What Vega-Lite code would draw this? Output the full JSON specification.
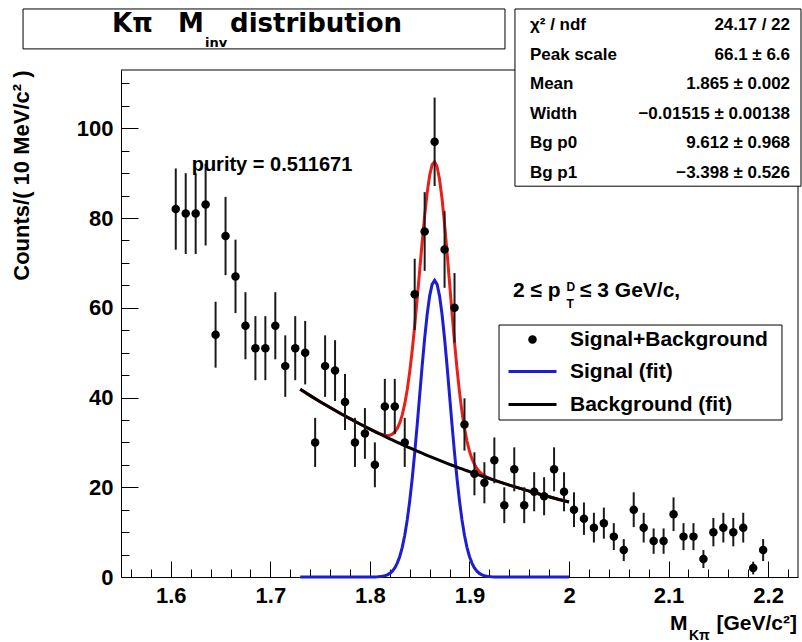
{
  "$schema": "https://vega.github.io/schema/vega-lite/v6.json",
  "width": 677,
  "height": 507,
  "autosize": {"type": "none"},
  "padding": {"left": 121, "top": 70, "right": 4, "bottom": 65},
  "background": "white",
  "config": {
    "view": {"stroke": null},
    "font": "Liberation Sans",
    "text": {"font": "Liberation Sans", "fontWeight": "bold", "color": "black"}
  },
  "data": {"values": [{}]},
  "datasets": {
    "hist": [
      {"m": 1.605, "n": 82, "err": 9.055}, {"m": 1.615, "n": 81, "err": 9.0}, {"m": 1.625, "n": 81, "err": 9.0},
      {"m": 1.635, "n": 83, "err": 9.11}, {"m": 1.645, "n": 54, "err": 7.348}, {"m": 1.655, "n": 76, "err": 8.718},
      {"m": 1.665, "n": 67, "err": 8.185}, {"m": 1.675, "n": 56, "err": 7.483}, {"m": 1.685, "n": 51, "err": 7.141},
      {"m": 1.695, "n": 51, "err": 7.141}, {"m": 1.705, "n": 56, "err": 7.483}, {"m": 1.715, "n": 47, "err": 6.856},
      {"m": 1.725, "n": 51, "err": 7.141}, {"m": 1.735, "n": 50, "err": 7.071}, {"m": 1.745, "n": 30, "err": 5.477},
      {"m": 1.755, "n": 47, "err": 6.856}, {"m": 1.765, "n": 46, "err": 6.782}, {"m": 1.775, "n": 39, "err": 6.245},
      {"m": 1.785, "n": 30, "err": 5.477}, {"m": 1.795, "n": 32, "err": 5.657}, {"m": 1.805, "n": 25, "err": 5.0},
      {"m": 1.815, "n": 38, "err": 6.164}, {"m": 1.825, "n": 38, "err": 6.164}, {"m": 1.835, "n": 30, "err": 5.477},
      {"m": 1.845, "n": 63, "err": 7.937}, {"m": 1.855, "n": 77, "err": 8.775}, {"m": 1.865, "n": 97, "err": 9.849},
      {"m": 1.875, "n": 73, "err": 8.544}, {"m": 1.885, "n": 60, "err": 7.746}, {"m": 1.895, "n": 34, "err": 5.831},
      {"m": 1.905, "n": 23, "err": 4.796}, {"m": 1.915, "n": 21, "err": 4.583}, {"m": 1.925, "n": 26, "err": 5.099},
      {"m": 1.935, "n": 16, "err": 4.0}, {"m": 1.945, "n": 24, "err": 4.899}, {"m": 1.955, "n": 16, "err": 4.0},
      {"m": 1.965, "n": 19, "err": 4.359}, {"m": 1.975, "n": 18, "err": 4.243}, {"m": 1.985, "n": 24, "err": 4.899},
      {"m": 1.995, "n": 19, "err": 4.359}, {"m": 2.005, "n": 15, "err": 3.873}, {"m": 2.015, "n": 13, "err": 3.606},
      {"m": 2.025, "n": 11, "err": 3.317}, {"m": 2.035, "n": 12, "err": 3.464}, {"m": 2.045, "n": 9, "err": 3.0},
      {"m": 2.055, "n": 6, "err": 2.449}, {"m": 2.065, "n": 15, "err": 3.873}, {"m": 2.075, "n": 11, "err": 3.317},
      {"m": 2.085, "n": 8, "err": 2.828}, {"m": 2.095, "n": 8, "err": 2.828}, {"m": 2.105, "n": 14, "err": 3.742},
      {"m": 2.115, "n": 9, "err": 3.0}, {"m": 2.125, "n": 9, "err": 3.0}, {"m": 2.135, "n": 4, "err": 2.0},
      {"m": 2.145, "n": 10, "err": 3.162}, {"m": 2.155, "n": 11, "err": 3.317}, {"m": 2.165, "n": 10, "err": 3.162},
      {"m": 2.175, "n": 11, "err": 3.317}, {"m": 2.185, "n": 2, "err": 1.414}, {"m": 2.195, "n": 6, "err": 2.449}
    ],
    "fit": [
      {"x": 1.73, "sig": 0, "bg": 41.824, "tot": 41.824},
      {"x": 1.74, "sig": 0, "bg": 40.427, "tot": 40.427},
      {"x": 1.75, "sig": 0, "bg": 39.077, "tot": 39.077},
      {"x": 1.76, "sig": 0, "bg": 37.771, "tot": 37.771},
      {"x": 1.77, "sig": 0, "bg": 36.509, "tot": 36.509},
      {"x": 1.78, "sig": 0, "bg": 35.29, "tot": 35.29},
      {"x": 1.79, "sig": 0, "bg": 34.111, "tot": 34.111},
      {"x": 1.8, "sig": 0.007, "bg": 32.971, "tot": 32.978},
      {"x": 1.8025, "sig": 0.013, "bg": 32.692, "tot": 32.705},
      {"x": 1.805, "sig": 0.026, "bg": 32.416, "tot": 32.442},
      {"x": 1.8075, "sig": 0.049, "bg": 32.141, "tot": 32.19},
      {"x": 1.81, "sig": 0.091, "bg": 31.87, "tot": 31.961},
      {"x": 1.8125, "sig": 0.163, "bg": 31.6, "tot": 31.763},
      {"x": 1.815, "sig": 0.285, "bg": 31.333, "tot": 31.618},
      {"x": 1.8175, "sig": 0.48, "bg": 31.068, "tot": 31.548},
      {"x": 1.82, "sig": 0.8, "bg": 30.805, "tot": 31.605},
      {"x": 1.8225, "sig": 1.29, "bg": 30.544, "tot": 31.834},
      {"x": 1.825, "sig": 2.03, "bg": 30.286, "tot": 32.316},
      {"x": 1.8275, "sig": 3.09, "bg": 30.03, "tot": 33.12},
      {"x": 1.83, "sig": 4.58, "bg": 29.776, "tot": 34.356},
      {"x": 1.8325, "sig": 6.62, "bg": 29.524, "tot": 36.144},
      {"x": 1.835, "sig": 9.3, "bg": 29.274, "tot": 38.574},
      {"x": 1.8375, "sig": 12.73, "bg": 29.027, "tot": 41.757},
      {"x": 1.84, "sig": 16.94, "bg": 28.781, "tot": 45.721},
      {"x": 1.8425, "sig": 21.94, "bg": 28.538, "tot": 50.478},
      {"x": 1.845, "sig": 27.65, "bg": 28.296, "tot": 55.946},
      {"x": 1.8475, "sig": 33.92, "bg": 28.057, "tot": 61.977},
      {"x": 1.85, "sig": 40.49, "bg": 27.82, "tot": 68.31},
      {"x": 1.8525, "sig": 47.03, "bg": 27.585, "tot": 74.615},
      {"x": 1.855, "sig": 53.16, "bg": 27.351, "tot": 80.511},
      {"x": 1.8575, "sig": 58.48, "bg": 27.12, "tot": 85.6},
      {"x": 1.86, "sig": 62.6, "bg": 26.89, "tot": 89.49},
      {"x": 1.8625, "sig": 65.21, "bg": 26.663, "tot": 91.873},
      {"x": 1.865, "sig": 66.1, "bg": 26.437, "tot": 92.537},
      {"x": 1.8675, "sig": 65.21, "bg": 26.214, "tot": 91.424},
      {"x": 1.87, "sig": 62.6, "bg": 25.992, "tot": 88.592},
      {"x": 1.8725, "sig": 58.48, "bg": 25.772, "tot": 84.252},
      {"x": 1.875, "sig": 53.16, "bg": 25.554, "tot": 78.714},
      {"x": 1.8775, "sig": 47.03, "bg": 25.338, "tot": 72.368},
      {"x": 1.88, "sig": 40.49, "bg": 25.124, "tot": 65.614},
      {"x": 1.8825, "sig": 33.92, "bg": 24.911, "tot": 58.831},
      {"x": 1.885, "sig": 27.65, "bg": 24.701, "tot": 52.351},
      {"x": 1.8875, "sig": 21.94, "bg": 24.492, "tot": 46.432},
      {"x": 1.89, "sig": 16.94, "bg": 24.285, "tot": 41.225},
      {"x": 1.8925, "sig": 12.73, "bg": 24.079, "tot": 36.809},
      {"x": 1.895, "sig": 9.3, "bg": 23.876, "tot": 33.176},
      {"x": 1.8975, "sig": 6.62, "bg": 23.674, "tot": 30.294},
      {"x": 1.9, "sig": 4.58, "bg": 23.473, "tot": 28.053},
      {"x": 1.9025, "sig": 3.09, "bg": 23.275, "tot": 26.365},
      {"x": 1.905, "sig": 2.03, "bg": 23.077, "tot": 25.107},
      {"x": 1.9075, "sig": 1.29, "bg": 22.882, "tot": 24.172},
      {"x": 1.91, "sig": 0.8, "bg": 22.689, "tot": 23.489},
      {"x": 1.9125, "sig": 0.48, "bg": 22.497, "tot": 22.977},
      {"x": 1.915, "sig": 0.285, "bg": 22.306, "tot": 22.591},
      {"x": 1.9175, "sig": 0.163, "bg": 22.118, "tot": 22.281},
      {"x": 1.92, "sig": 0.091, "bg": 21.931, "tot": 22.022},
      {"x": 1.9225, "sig": 0.049, "bg": 21.745, "tot": 21.794},
      {"x": 1.925, "sig": 0.026, "bg": 21.561, "tot": 21.587},
      {"x": 1.9275, "sig": 0.013, "bg": 21.379, "tot": 21.392},
      {"x": 1.93, "sig": 0.007, "bg": 21.199, "tot": 21.206},
      {"x": 1.94, "sig": 0, "bg": 20.49, "tot": 20.49},
      {"x": 1.95, "sig": 0, "bg": 19.806, "tot": 19.806},
      {"x": 1.96, "sig": 0, "bg": 19.144, "tot": 19.144},
      {"x": 1.97, "sig": 0, "bg": 18.505, "tot": 18.505},
      {"x": 1.98, "sig": 0, "bg": 17.887, "tot": 17.887},
      {"x": 1.99, "sig": 0, "bg": 17.289, "tot": 17.289},
      {"x": 2.0, "sig": 0, "bg": 16.712, "tot": 16.712}
    ],
    "stats": [
      {"name": "χ² / ndf", "value": "24.17 / 22"},
      {"name": "Peak scale", "value": "66.1 ± 6.6"},
      {"name": "Mean", "value": "1.865 ± 0.002"},
      {"name": "Width", "value": "−0.01515 ± 0.00138"},
      {"name": "Bg p0", "value": "9.612 ± 0.968"},
      {"name": "Bg p1", "value": "−3.398 ± 0.526"}
    ]
  },
  "layer": [
    {
      "layer": [
        {
          "data": {"name": "fit"},
          "mark": {"type": "line", "color": "#e8201c", "strokeWidth": 3, "interpolate": "linear"},
          "encoding": {
            "x": {
              "field": "x", "type": "quantitative", "title": null,
              "scale": {"domain": [1.55, 2.23], "nice": false, "zero": false},
              "axis": {
                "orient": "bottom",
                "values": [1.6, 1.7, 1.8, 1.9, 2, 2.1, 2.2],
                "labelExpr": "format(datum.value, '.2~f')",
                "ticks": false, "grid": false,
                "domainColor": "black", "domainWidth": 1,
                "labelFont": "Liberation Sans", "labelFontSize": 22, "labelFontWeight": "bold", "labelColor": "black",
                "labelPadding": 8, "labelFlush": false, "labelOverlap": false, "title": null
              }
            },
            "y": {
              "field": "tot", "type": "quantitative", "title": "Counts/( 10 MeV/c² )",
              "scale": {"domain": [0, 113], "nice": false, "zero": true},
              "axis": {
                "orient": "left",
                "values": [0, 20, 40, 60, 80, 100],
                "ticks": false, "grid": false,
                "domainColor": "black", "domainWidth": 1,
                "labelFont": "Liberation Sans", "labelFontSize": 22, "labelFontWeight": "bold", "labelColor": "black",
                "labelPadding": 8, "labelOverlap": false,
                "title": "Counts/( 10 MeV/c² )",
                "titleFont": "Liberation Sans", "titleFontSize": 22, "titleFontWeight": "bold", "titleColor": "black",
                "titleAngle": 270, "titleAlign": "right", "titleBaseline": "alphabetic",
                "titleX": -93, "titleY": 0
              }
            }
          }
        },
        {
          "data": {"name": "fit"},
          "mark": {"type": "line", "strokeWidth": 3, "interpolate": "linear"},
          "encoding": {
            "x": {"field": "x", "type": "quantitative", "title": null},
            "y": {"field": "sig", "type": "quantitative", "title": "Counts/( 10 MeV/c² )"},
            "color": {
              "datum": "Signal (fit)", "type": "nominal",
              "scale": {"domain": ["Signal (fit)", "Background (fit)"], "range": ["#1d1dd6", "black"]},
              "legend": {
                "title": null, "orient": "none", "legendX": 378, "legendY": 286, "direction": "vertical",
                "padding": 5, "rowPadding": 11, "strokeColor": null, "fillColor": null,
                "labelFont": "Liberation Sans", "labelFontSize": 21, "labelFontWeight": "bold", "labelColor": "black",
                "labelOffset": 27, "labelLimit": 400,
                "symbolType": "M-2.667,0L2.667,0", "symbolSize": 324, "symbolStrokeWidth": 3, "symbolOffset": 18
              }
            }
          }
        },
        {
          "data": {"name": "fit"},
          "mark": {"type": "line", "strokeWidth": 3, "interpolate": "linear"},
          "encoding": {
            "x": {"field": "x", "type": "quantitative", "title": null},
            "y": {"field": "bg", "type": "quantitative", "title": "Counts/( 10 MeV/c² )"},
            "color": {"datum": "Background (fit)", "type": "nominal"}
          }
        },
        {
          "data": {"name": "hist"},
          "mark": {"type": "errorbar", "color": "#1a1a1a", "thickness": 2, "ticks": false, "rule": {"strokeWidth": 2}},
          "encoding": {
            "x": {"field": "m", "type": "quantitative", "title": null},
            "y": {"field": "n", "type": "quantitative", "title": "Counts/( 10 MeV/c² )"},
            "yError": {"field": "err"}
          }
        },
        {
          "data": {"name": "hist"},
          "mark": {"type": "point", "filled": true, "size": 72, "opacity": 1, "color": "black"},
          "encoding": {
            "x": {"field": "m", "type": "quantitative", "title": null},
            "y": {"field": "n", "type": "quantitative", "title": "Counts/( 10 MeV/c² )"},
            "shape": {
              "datum": "Signal+Background", "type": "nominal",
              "scale": {"domain": ["Signal+Background"], "range": ["circle"]},
              "legend": {
                "title": null, "orient": "none", "legendX": 378, "legendY": 254, "direction": "vertical",
                "padding": 5, "strokeColor": null, "fillColor": null,
                "labelFont": "Liberation Sans", "labelFontSize": 21, "labelFontWeight": "bold", "labelColor": "black",
                "labelOffset": 27, "labelLimit": 400,
                "symbolSize": 72, "symbolFillColor": "black", "symbolStrokeWidth": 0, "symbolOffset": 18, "symbolOpacity": 1
              }
            }
          }
        },
        {
          "mark": {"type": "rule", "color": "black", "strokeWidth": 1},
          "encoding": {"y": {"datum": 113, "type": "quantitative", "title": "Counts/( 10 MeV/c² )"}}
        },
        {
          "mark": {"type": "rule", "color": "black", "strokeWidth": 1},
          "encoding": {"x": {"datum": 2.23, "type": "quantitative", "title": null}}
        },
        {
          "mark": {"type": "rect", "fill": "white", "stroke": "black", "strokeWidth": 1},
          "encoding": {
            "x": {"datum": 1.9297, "type": "quantitative", "title": null}, "x2": {"datum": 2.2139},
            "y": {"datum": 56.16, "type": "quantitative", "title": "Counts/( 10 MeV/c² )"}, "y2": {"datum": 34.99}
          }
        },
        {
          "mark": {"type": "text", "align": "left", "baseline": "alphabetic", "fontSize": 20},
          "encoding": {"x": {"datum": 1.621, "type": "quantitative", "title": null}, "y": {"datum": 90.5, "type": "quantitative", "title": "Counts/( 10 MeV/c² )"}, "text": {"value": "purity = 0.511671"}}
        },
        {
          "mark": {"type": "text", "align": "left", "baseline": "alphabetic", "fontSize": 21},
          "encoding": {"x": {"datum": 1.9437, "type": "quantitative", "title": null}, "y": {"datum": 62.4, "type": "quantitative", "title": "Counts/( 10 MeV/c² )"}, "text": {"value": "2 ≤ p"}}
        },
        {
          "mark": {"type": "text", "align": "left", "baseline": "alphabetic", "fontSize": 12},
          "encoding": {"x": {"datum": 1.9975, "type": "quantitative", "title": null}, "y": {"datum": 63.8, "type": "quantitative", "title": "Counts/( 10 MeV/c² )"}, "text": {"value": "D"}}
        },
        {
          "mark": {"type": "text", "align": "left", "baseline": "alphabetic", "fontSize": 12},
          "encoding": {"x": {"datum": 1.9975, "type": "quantitative", "title": null}, "y": {"datum": 60.0, "type": "quantitative", "title": "Counts/( 10 MeV/c² )"}, "text": {"value": "T"}}
        },
        {
          "mark": {"type": "text", "align": "left", "baseline": "alphabetic", "fontSize": 21},
          "encoding": {"x": {"datum": 2.011, "type": "quantitative", "title": null}, "y": {"datum": 62.4, "type": "quantitative", "title": "Counts/( 10 MeV/c² )"}, "text": {"value": "≤ 3 GeV/c,"}}
        },
        {
          "mark": {"type": "rect", "fill": "white", "stroke": "black", "strokeWidth": 1},
          "encoding": {
            "x": {"datum": 1.4516, "type": "quantitative", "title": null}, "x2": {"datum": 1.9357},
            "y": {"datum": 126.6, "type": "quantitative", "title": "Counts/( 10 MeV/c² )"}, "y2": {"datum": 117.7}
          }
        },
        {
          "mark": {"type": "text", "align": "left", "baseline": "alphabetic", "font": "DejaVu Sans", "fontSize": 26},
          "encoding": {"x": {"datum": 1.541, "type": "quantitative", "title": null}, "y": {"datum": 121.4, "type": "quantitative", "title": "Counts/( 10 MeV/c² )"}, "text": {"value": "Kπ"}}
        },
        {
          "mark": {"type": "text", "align": "left", "baseline": "alphabetic", "font": "DejaVu Sans", "fontSize": 26},
          "encoding": {"x": {"datum": 1.6073, "type": "quantitative", "title": null}, "y": {"datum": 121.4, "type": "quantitative", "title": "Counts/( 10 MeV/c² )"}, "text": {"value": "M"}}
        },
        {
          "mark": {"type": "text", "align": "left", "baseline": "alphabetic", "font": "DejaVu Sans", "fontSize": 13},
          "encoding": {"x": {"datum": 1.6344, "type": "quantitative", "title": null}, "y": {"datum": 118.1, "type": "quantitative", "title": "Counts/( 10 MeV/c² )"}, "text": {"value": "inv"}}
        },
        {
          "mark": {"type": "text", "align": "left", "baseline": "alphabetic", "font": "DejaVu Sans", "fontSize": 26},
          "encoding": {"x": {"datum": 1.6595, "type": "quantitative", "title": null}, "y": {"datum": 121.4, "type": "quantitative", "title": "Counts/( 10 MeV/c² )"}, "text": {"value": "distribution"}}
        },
        {
          "mark": {"type": "text", "align": "left", "baseline": "alphabetic", "fontSize": 21},
          "encoding": {"x": {"datum": 2.1014, "type": "quantitative", "title": null}, "y": {"datum": -11.8, "type": "quantitative", "title": "Counts/( 10 MeV/c² )"}, "text": {"value": "M"}}
        },
        {
          "mark": {"type": "text", "align": "left", "baseline": "alphabetic", "fontSize": 14},
          "encoding": {"x": {"datum": 2.1205, "type": "quantitative", "title": null}, "y": {"datum": -14.0, "type": "quantitative", "title": "Counts/( 10 MeV/c² )"}, "text": {"value": "Kπ"}}
        },
        {
          "mark": {"type": "text", "align": "right", "baseline": "alphabetic", "fontSize": 21},
          "encoding": {"x": {"datum": 2.229, "type": "quantitative", "title": null}, "y": {"datum": -11.8, "type": "quantitative", "title": "Counts/( 10 MeV/c² )"}, "text": {"value": "[GeV/c²]"}}
        },
        {
          "mark": {"type": "rect", "fill": "white", "stroke": "black", "strokeWidth": 1},
          "encoding": {
            "x": {"datum": 1.9457, "type": "quantitative", "title": null}, "x2": {"datum": 2.233},
            "y": {"datum": 126.6, "type": "quantitative", "title": "Counts/( 10 MeV/c² )"}, "y2": {"datum": 87.1}
          }
        }
      ]
    },
    {
      "data": {"name": "stats"},
      "layer": [
        {
          "mark": {"type": "text", "align": "left", "baseline": "middle", "fontSize": 17},
          "encoding": {
            "x": {"datum": 1.9608, "type": "quantitative", "scale": {"domain": [1.55, 2.23], "nice": false, "zero": false}, "axis": null},
            "y": {"field": "name", "type": "nominal", "sort": null, "scale": {"type": "point", "range": [-45, 103], "padding": 0}, "axis": null},
            "text": {"field": "name"}
          }
        },
        {
          "mark": {"type": "text", "align": "right", "baseline": "middle", "fontSize": 17},
          "encoding": {
            "x": {"datum": 2.222, "type": "quantitative", "axis": null},
            "y": {"field": "name", "type": "nominal", "sort": null, "axis": null},
            "text": {"field": "value"}
          }
        }
      ]
    },
    {
      "mark": {"type": "point", "opacity": 0},
      "encoding": {
        "x": {
          "datum": 1.6, "type": "quantitative",
          "scale": {"domain": [1.55, 2.23], "nice": false, "zero": false},
          "axis": {
            "orient": "bottom",
            "values": [1.6, 1.7, 1.8, 1.9, 2, 2.1, 2.2],
            "labels": false, "domain": false, "grid": false, "title": null,
            "tickSize": -16, "tickColor": "black", "tickWidth": 1
          }
        },
        "y": {
          "datum": 0, "type": "quantitative",
          "scale": {"domain": [0, 113], "nice": false, "zero": true},
          "axis": {
            "orient": "left",
            "values": [0, 20, 40, 60, 80, 100],
            "labels": false, "domain": false, "grid": false, "title": null,
            "tickSize": -17, "tickColor": "black", "tickWidth": 1
          }
        }
      }
    },
    {
      "mark": {"type": "point", "opacity": 0},
      "encoding": {
        "x": {
          "datum": 1.6, "type": "quantitative",
          "scale": {"domain": [1.55, 2.23], "nice": false, "zero": false},
          "axis": {
            "orient": "bottom",
            "values": [1.56, 1.58, 1.62, 1.64, 1.66, 1.68, 1.72, 1.74, 1.76, 1.78, 1.82, 1.84, 1.86, 1.88, 1.92, 1.94, 1.96, 1.98, 2.02, 2.04, 2.06, 2.08, 2.12, 2.14, 2.16, 2.18, 2.22],
            "labels": false, "domain": false, "grid": false, "title": null,
            "tickSize": -8, "tickColor": "black", "tickWidth": 1
          }
        },
        "y": {
          "datum": 0, "type": "quantitative",
          "scale": {"domain": [0, 113], "nice": false, "zero": true},
          "axis": {
            "orient": "left",
            "values": [5, 10, 15, 25, 30, 35, 45, 50, 55, 65, 70, 75, 85, 90, 95, 105, 110],
            "labels": false, "domain": false, "grid": false, "title": null,
            "tickSize": -8, "tickColor": "black", "tickWidth": 1
          }
        }
      }
    }
  ],
  "resolve": {"scale": {"x": "independent", "y": "independent"}}
}
